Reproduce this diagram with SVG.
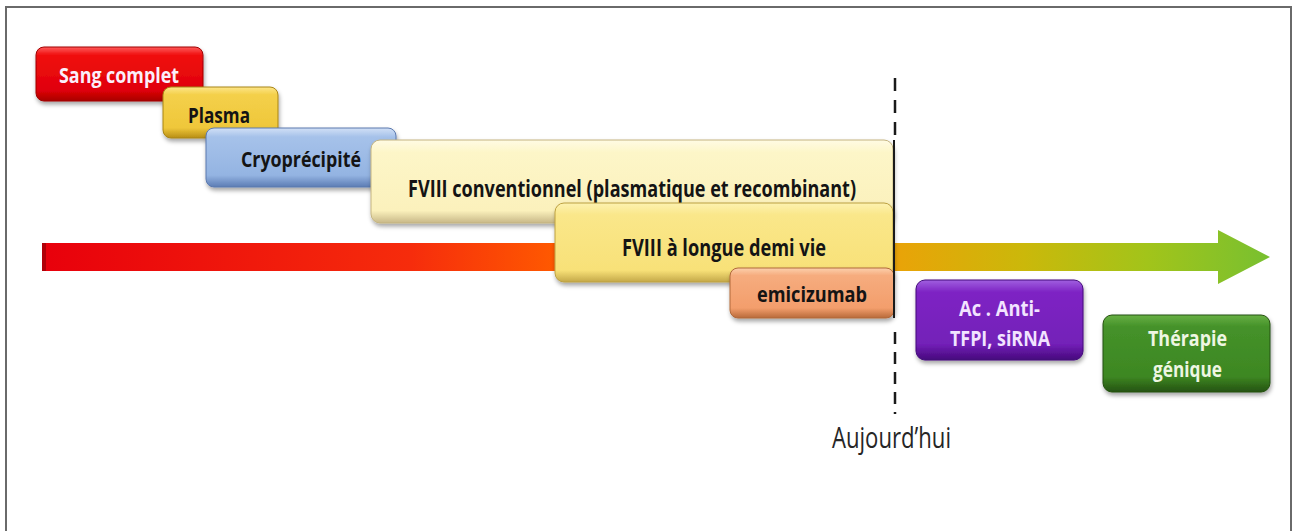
<svg xmlns="http://www.w3.org/2000/svg" width="1294" height="531" viewBox="0 0 1294 531">
  <defs>
    <linearGradient id="timeline" gradientUnits="userSpaceOnUse" x1="42" y1="0" x2="1270" y2="0">
      <stop offset="0" stop-color="#e8000c"/>
      <stop offset="0.3" stop-color="#f62c0c"/>
      <stop offset="0.42" stop-color="#ff5a00"/>
      <stop offset="0.7" stop-color="#e8a408"/>
      <stop offset="0.8" stop-color="#cbb80a"/>
      <stop offset="0.9" stop-color="#a2c41a"/>
      <stop offset="1" stop-color="#78c030"/>
    </linearGradient>
    <linearGradient id="gRed" x1="0" y1="0" x2="0" y2="1">
      <stop offset="0" stop-color="#ff5a5a"/>
      <stop offset="0.15" stop-color="#f01010"/>
      <stop offset="0.8" stop-color="#e00008"/>
      <stop offset="1" stop-color="#a80000"/>
    </linearGradient>
    <linearGradient id="gPlasma" x1="0" y1="0" x2="0" y2="1">
      <stop offset="0" stop-color="#fde68a"/>
      <stop offset="0.15" stop-color="#f4d04a"/>
      <stop offset="0.8" stop-color="#efc73a"/>
      <stop offset="1" stop-color="#b88e14"/>
    </linearGradient>
    <linearGradient id="gCryo" x1="0" y1="0" x2="0" y2="1">
      <stop offset="0" stop-color="#d2e0f6"/>
      <stop offset="0.15" stop-color="#a6c2ea"/>
      <stop offset="0.8" stop-color="#94b4e2"/>
      <stop offset="1" stop-color="#5c7cb4"/>
    </linearGradient>
    <linearGradient id="gConv" x1="0" y1="0" x2="0" y2="1">
      <stop offset="0" stop-color="#fffbe4"/>
      <stop offset="0.15" stop-color="#fdf6c8"/>
      <stop offset="0.85" stop-color="#fbf1bc"/>
      <stop offset="1" stop-color="#c8b888"/>
    </linearGradient>
    <linearGradient id="gLong" x1="0" y1="0" x2="0" y2="1">
      <stop offset="0" stop-color="#fdf2b0"/>
      <stop offset="0.15" stop-color="#fae78a"/>
      <stop offset="0.85" stop-color="#f8e178"/>
      <stop offset="1" stop-color="#c4a848"/>
    </linearGradient>
    <linearGradient id="gEmi" x1="0" y1="0" x2="0" y2="1">
      <stop offset="0" stop-color="#fcd0ac"/>
      <stop offset="0.15" stop-color="#f6ac7e"/>
      <stop offset="0.8" stop-color="#f39e6c"/>
      <stop offset="1" stop-color="#b86a3a"/>
    </linearGradient>
    <linearGradient id="gPurple" x1="0" y1="0" x2="0" y2="1">
      <stop offset="0" stop-color="#a060e0"/>
      <stop offset="0.15" stop-color="#7e24c4"/>
      <stop offset="0.8" stop-color="#7320b8"/>
      <stop offset="1" stop-color="#46087c"/>
    </linearGradient>
    <linearGradient id="gGreen" x1="0" y1="0" x2="0" y2="1">
      <stop offset="0" stop-color="#68b044"/>
      <stop offset="0.15" stop-color="#45922a"/>
      <stop offset="0.8" stop-color="#3d8722"/>
      <stop offset="1" stop-color="#255212"/>
    </linearGradient>
    <filter id="shadow" x="-10%" y="-20%" width="120%" height="150%">
      <feDropShadow dx="1" dy="3" stdDeviation="2" flood-color="#000" flood-opacity="0.35"/>
    </filter>
  </defs>
  <style>
    .box { filter: url(#shadow); stroke-width: 1; }
    .lbl { font-family: "Open Sans", "Liberation Sans", sans-serif; font-weight: bold; font-size: 22px; fill: #141414; }
    .big { font-size: 23px; }
    .two { font-size: 21px; }
    .light { fill: #fbeefa; }
    .pale { fill: #f2e4ff; }
    .mint { fill: #eef6e2; }
    .today { font-family: "Open Sans", "Liberation Sans", sans-serif; font-size: 30px; fill: #262626; }
  </style>

  <!-- outer frame (open at the bottom) -->
  <path d="M6,531 V7 H1291 V531" fill="none" stroke="#6a6a6a" stroke-width="2"/>

  <!-- timeline arrow -->
  <g id="connectors">
    <path d="M42,243 H1218 V230 L1270,257 L1218,284 V271 H42 Z" fill="url(#timeline)"/>
    <rect x="42" y="243" width="4" height="28" fill="#b00008"/>
  </g>

  <g id="sang-complet">
    <rect class="box" x="36" y="47" width="167" height="54" rx="8" fill="url(#gRed)" stroke="#a00000"/>
    <text class="lbl light" x="59" y="83" textLength="120" lengthAdjust="spacingAndGlyphs">Sang complet</text>
  </g>
  <g id="plasma">
    <rect class="box" x="163" y="87" width="115" height="51" rx="8" fill="url(#gPlasma)" stroke="#a88414"/>
    <text class="lbl" x="188" y="123" textLength="62" lengthAdjust="spacingAndGlyphs">Plasma</text>
  </g>
  <g id="cryoprecipite">
    <rect class="box" x="206" y="128" width="190" height="59" rx="8" fill="url(#gCryo)" stroke="#5a78ae"/>
    <text class="lbl" x="241" y="167" textLength="120" lengthAdjust="spacingAndGlyphs">Cryoprécipité</text>
  </g>
  <g id="fviii-conventionnel">
    <rect class="box" x="371" y="140" width="522" height="83" rx="9" fill="url(#gConv)" stroke="#c4b480"/>
    <text class="lbl big" x="408" y="197" textLength="448" lengthAdjust="spacingAndGlyphs">FVIII conventionnel (plasmatique et recombinant)</text>
  </g>
  <g id="fviii-longue-demi-vie">
    <rect class="box" x="555" y="203" width="338" height="79" rx="9" fill="url(#gLong)" stroke="#bca040"/>
    <text class="lbl big" x="622" y="256" textLength="204" lengthAdjust="spacingAndGlyphs">FVIII à longue demi vie</text>
  </g>
  <g id="emicizumab">
    <rect class="box" x="730" y="268" width="164" height="50" rx="8" fill="url(#gEmi)" stroke="#b0683a"/>
    <text class="lbl" x="757" y="302" textLength="110" lengthAdjust="spacingAndGlyphs">emicizumab</text>
  </g>
  <g id="anti-tfpi">
    <rect class="box" x="916" y="280" width="167" height="80" rx="9" fill="url(#gPurple)" stroke="#42087a"/>
    <text class="lbl pale two" x="959" y="316" textLength="81" lengthAdjust="spacingAndGlyphs">Ac . Anti-</text>
    <text class="lbl pale two" x="950" y="346" textLength="100" lengthAdjust="spacingAndGlyphs">TFPI, siRNA</text>
  </g>
  <g id="therapie-genique">
    <rect class="box" x="1103" y="315" width="167" height="77" rx="9" fill="url(#gGreen)" stroke="#245010"/>
    <text class="lbl mint two" x="1148" y="346" textLength="79" lengthAdjust="spacingAndGlyphs">Thérapie</text>
    <text class="lbl mint two" x="1153" y="377" textLength="69" lengthAdjust="spacingAndGlyphs">génique</text>
  </g>

  <!-- "today" marker -->
  <g id="aujourdhui">
    <line x1="895" y1="78" x2="895" y2="140" stroke="#1a1a1a" stroke-width="2.5" stroke-dasharray="13 9"/>
    <line x1="894" y1="140" x2="894" y2="318" stroke="#1a1a1a" stroke-width="2"/>
    <line x1="895" y1="332" x2="895" y2="414" stroke="#1a1a1a" stroke-width="2.5" stroke-dasharray="12 8"/>
    <text class="today" x="832" y="448" textLength="119" lengthAdjust="spacingAndGlyphs">Aujourd’hui</text>
  </g>
</svg>
